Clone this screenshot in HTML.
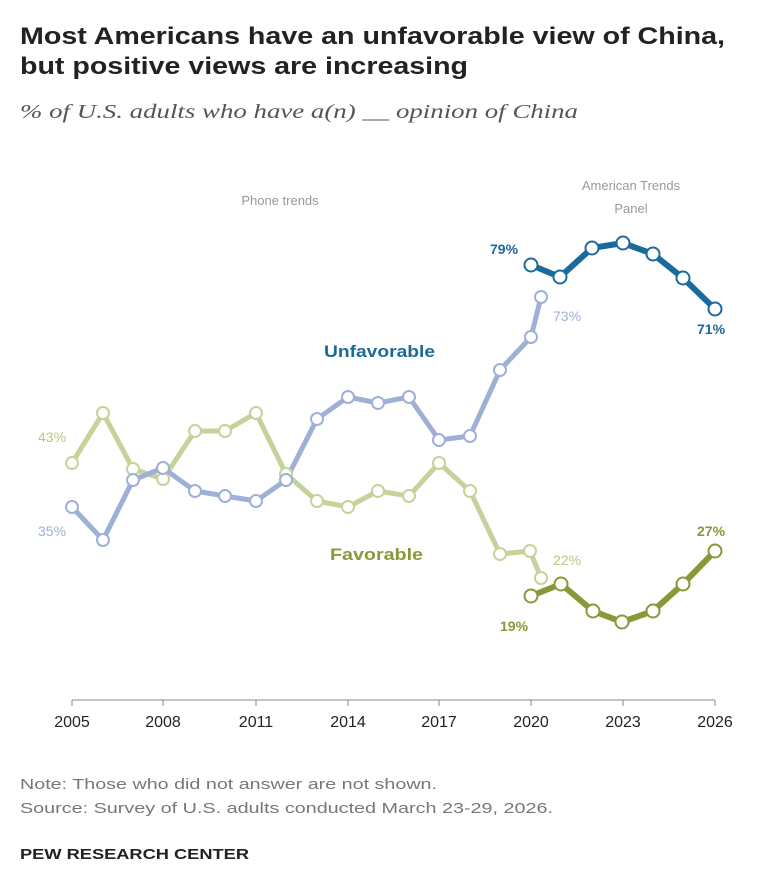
<!DOCTYPE html>
<html><head><meta charset="utf-8"><style>
body{margin:0;background:#fff;width:780px;height:876px;overflow:hidden;font-family:"Liberation Sans",sans-serif}
</style></head><body>
<svg width="780" height="876" viewBox="0 0 780 876" xmlns="http://www.w3.org/2000/svg" font-family="Liberation Sans, sans-serif">
<text x="20" y="44" font-size="24" font-weight="bold" fill="#222" textLength="705" lengthAdjust="spacingAndGlyphs">Most Americans have an unfavorable view of China,</text>
<text x="20" y="74" font-size="24" font-weight="bold" fill="#222" textLength="448" lengthAdjust="spacingAndGlyphs">but positive views are increasing</text>
<text x="20" y="118" font-size="20" font-style="italic" font-family="Liberation Serif, serif" fill="#555" textLength="558" lengthAdjust="spacingAndGlyphs">% of U.S. adults who have a(n) __ opinion of China</text>
<text x="280" y="205" font-size="13" fill="#999" text-anchor="middle">Phone trends</text>
<text x="631" y="190" font-size="13" fill="#999" text-anchor="middle">American Trends</text>
<text x="631" y="213" font-size="13" fill="#999" text-anchor="middle">Panel</text>
<line x1="72" y1="700" x2="715" y2="700" stroke="#888" stroke-width="1"/>
<g stroke="#888">
<line x1="72" y1="700" x2="72" y2="706"/><line x1="163" y1="700" x2="163" y2="706"/><line x1="256" y1="700" x2="256" y2="706"/><line x1="348" y1="700" x2="348" y2="706"/><line x1="439" y1="700" x2="439" y2="706"/><line x1="531" y1="700" x2="531" y2="706"/><line x1="623" y1="700" x2="623" y2="706"/><line x1="715" y1="700" x2="715" y2="706"/>
</g>
<g font-size="16" fill="#222" text-anchor="middle">
<text x="72" y="727">2005</text><text x="163" y="727">2008</text><text x="256" y="727">2011</text><text x="348" y="727">2014</text><text x="439" y="727">2017</text><text x="531" y="727">2020</text><text x="623" y="727">2023</text><text x="715" y="727">2026</text>
</g>
<g fill="none" stroke-width="5" stroke-linejoin="round">
<polyline stroke="#c5d39a" points="72,463 103,413 133,469 163,479 195,431 225,431 256,413 286,474 317,501 348,507 378,491 409,496 439,463 470,491 500,554 530,551 541,578"/>
<polyline stroke="#9fb0d6" points="72,507 103,540 133,480 163,468 195,491 225,496 256,501 286,480 317,419 348,397 378,403 409,397 439,440 470,436 500,370 531,337 541,297"/>
<polyline stroke="#1b6a9c" stroke-width="6" points="531,265 560,277 592,248 623,243 653,254 683,278 715,309"/>
<polyline stroke="#869a38" stroke-width="6" points="531,596 561,584 593,611 622,622 653,611 683,584 715,551"/>
</g>
<g fill="#fff" stroke-width="2">
<g stroke="#c5d39a"><circle cx="72" cy="463" r="6"/><circle cx="103" cy="413" r="6"/><circle cx="133" cy="469" r="6"/><circle cx="163" cy="479" r="6"/><circle cx="195" cy="431" r="6"/><circle cx="225" cy="431" r="6"/><circle cx="256" cy="413" r="6"/><circle cx="286" cy="474" r="6"/><circle cx="317" cy="501" r="6"/><circle cx="348" cy="507" r="6"/><circle cx="378" cy="491" r="6"/><circle cx="409" cy="496" r="6"/><circle cx="439" cy="463" r="6"/><circle cx="470" cy="491" r="6"/><circle cx="500" cy="554" r="6"/><circle cx="530" cy="551" r="6"/><circle cx="541" cy="578" r="6"/></g>
<g stroke="#9fb0d6"><circle cx="72" cy="507" r="6"/><circle cx="103" cy="540" r="6"/><circle cx="133" cy="480" r="6"/><circle cx="163" cy="468" r="6"/><circle cx="195" cy="491" r="6"/><circle cx="225" cy="496" r="6"/><circle cx="256" cy="501" r="6"/><circle cx="286" cy="480" r="6"/><circle cx="317" cy="419" r="6"/><circle cx="348" cy="397" r="6"/><circle cx="378" cy="403" r="6"/><circle cx="409" cy="397" r="6"/><circle cx="439" cy="440" r="6"/><circle cx="470" cy="436" r="6"/><circle cx="500" cy="370" r="6"/><circle cx="531" cy="337" r="6"/><circle cx="541" cy="297" r="6"/></g>
<g stroke="#1b6a9c"><circle cx="531" cy="265" r="6.5"/><circle cx="560" cy="277" r="6.5"/><circle cx="592" cy="248" r="6.5"/><circle cx="623" cy="243" r="6.5"/><circle cx="653" cy="254" r="6.5"/><circle cx="683" cy="278" r="6.5"/><circle cx="715" cy="309" r="6.5"/></g>
<g stroke="#869a38"><circle cx="531" cy="596" r="6.5"/><circle cx="561" cy="584" r="6.5"/><circle cx="593" cy="611" r="6.5"/><circle cx="622" cy="622" r="6.5"/><circle cx="653" cy="611" r="6.5"/><circle cx="683" cy="584" r="6.5"/><circle cx="715" cy="551" r="6.5"/></g>
</g>
<g font-size="14">
<text x="38" y="442" fill="#b7c77f">43%</text>
<text x="38" y="536" fill="#9fb0d6">35%</text>
<text x="553" y="321" fill="#9fb0d6">73%</text>
<text x="553" y="565" fill="#b7c77f">22%</text>
<text x="490" y="254" fill="#1b6a9c" font-weight="bold">79%</text>
<text x="697" y="334" fill="#1b6a9c" font-weight="bold">71%</text>
<text x="500" y="631" fill="#869a38" font-weight="bold">19%</text>
<text x="697" y="536" fill="#869a38" font-weight="bold">27%</text>
</g>
<text x="324" y="357" font-size="17" font-weight="bold" fill="#1b6a9c" textLength="111" lengthAdjust="spacingAndGlyphs">Unfavorable</text>
<text x="330" y="560" font-size="17" font-weight="bold" fill="#869a38" textLength="93" lengthAdjust="spacingAndGlyphs">Favorable</text>
<text x="20" y="789" font-size="15" fill="#777" textLength="417" lengthAdjust="spacingAndGlyphs">Note: Those who did not answer are not shown.</text>
<text x="20" y="813" font-size="15" fill="#777" textLength="533" lengthAdjust="spacingAndGlyphs">Source: Survey of U.S. adults conducted March 23-29, 2026.</text>
<text x="20" y="859" font-size="15" font-weight="bold" fill="#222" textLength="229" lengthAdjust="spacingAndGlyphs">PEW RESEARCH CENTER</text>
</svg>
</body></html>
